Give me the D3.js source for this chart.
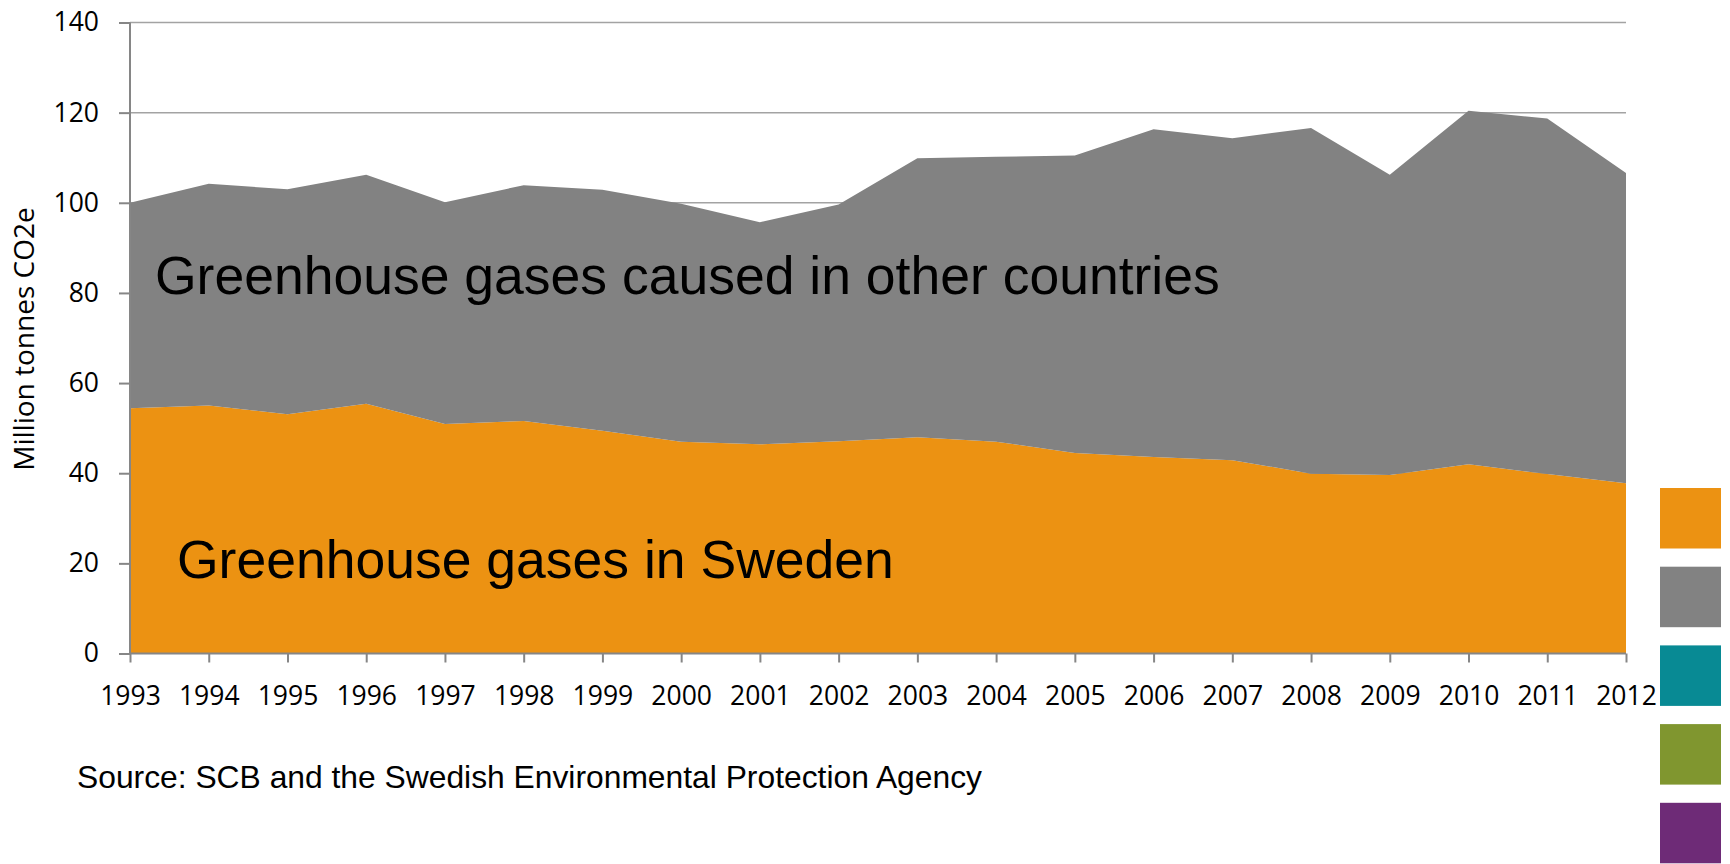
<!DOCTYPE html>
<html>
<head>
<meta charset="utf-8">
<title>Greenhouse gases</title>
<script src="https://cdn.jsdelivr.net/npm/d3@7"></script>
<style>
  body { margin: 0; background: #fff; }
  svg { display: block; }
</style>
</head>
<body>
<div id="chart"></div>
<script>
// data (million tonnes CO2e)
const years = [1993, 1994, 1995, 1996, 1997, 1998, 1999, 2000, 2001, 2002,
               2003, 2004, 2005, 2006, 2007, 2008, 2009, 2010, 2011, 2012];
const sweden = [54.4, 55.0, 53.1, 55.4, 50.9, 51.6, 49.4, 47.0, 46.4, 47.1,
                48.0, 47.0, 44.5, 43.6, 42.9, 39.9, 39.6, 42.0, 39.8, 37.8];
const abroad = [45.6, 49.2, 49.9, 50.8, 49.2, 52.3, 53.5, 52.8, 49.3, 52.5,
                61.9, 63.2, 66.0, 72.7, 71.4, 76.7, 66.6, 78.4, 78.9, 68.8];
const yTicks = [0, 20, 40, 60, 80, 100, 120, 140];
const seriesNames = ["Greenhouse gases in Sweden", "Greenhouse gases caused in other countries"];
const seriesColors = ["#ec9212", "#828282"];
const legendColors = ["#ec9212", "#828282", "#088a94", "#80962f", "#6e2b77"];

const W = 1730, H = 864;
const plotLeft = 130, plotRight = 1626, plotTop = 22.5, plotBottom = 653.5;

const svg = d3.select("#chart").append("svg")
    .attr("width", W)
    .attr("height", H);

const x = d3.scaleLinear().domain([years[0], years[years.length - 1]]).range([plotLeft, plotRight]);
const y = d3.scaleLinear().domain([0, 140]).range([plotBottom, plotTop]);

const rows = years.map((yr, i) => ({ year: yr, sweden: sweden[i], abroad: abroad[i] }));
const stacked = d3.stack().keys(["sweden", "abroad"])(rows);

// gridlines (behind the areas)
svg.append("g")
    .selectAll("line")
    .data(yTicks.filter(d => d > 0))
    .join("line")
    .attr("x1", plotLeft).attr("x2", plotRight)
    .attr("y1", d => y(d)).attr("y2", d => y(d))
    .attr("stroke", "#a3a3a3")
    .attr("stroke-width", 1.5);

const area = d3.area()
    .x(d => x(d.data.year))
    .y0(d => y(d[0]))
    .y1(d => y(d[1]));

svg.append("g")
    .selectAll("path")
    .data(stacked)
    .join("path")
    .attr("fill", (d, i) => seriesColors[i])
    .attr("d", area);

// y axis
const yAxis = svg.append("g")
    .attr("transform", `translate(${plotLeft},0)`)
    .call(d3.axisLeft(y).tickValues(yTicks).tickSize(11).tickPadding(20));
// x axis
const xAxis = svg.append("g")
    .attr("transform", `translate(0,${plotBottom})`)
    .call(d3.axisBottom(x).tickValues(years).tickFormat(d3.format("d")).tickSize(9).tickPadding(24));

[yAxis, xAxis].forEach(g => {
    g.select(".domain").attr("stroke", "#868686").attr("stroke-width", 2);
    g.selectAll(".tick line").attr("stroke", "#868686").attr("stroke-width", 2);
    g.selectAll("text")
        .attr("fill", "#000")
        .style("font-family", "'Open Sans', sans-serif")
        .style("font-size", "26.5px");
});
yAxis.select(".domain").attr("d", `M0,${plotTop}V${plotBottom}`);
xAxis.select(".domain").attr("d", `M${plotLeft},0H${plotRight}`);

// axis title
svg.append("text")
    .attr("transform", `translate(34,339) rotate(-90)`)
    .attr("text-anchor", "middle")
    .style("font-family", "'Open Sans', sans-serif")
    .style("font-size", "28px")
    .text("Million tonnes CO2e");

// area labels
svg.append("text")
    .attr("x", 155).attr("y", 294)
    .style("font-family", "'Liberation Sans', Arial, sans-serif")
    .style("font-size", "53.5px")
    .text(seriesNames[1]);
svg.append("text")
    .attr("x", 177).attr("y", 578)
    .style("font-family", "'Liberation Sans', Arial, sans-serif")
    .style("font-size", "53.5px")
    .text(seriesNames[0]);

// source
svg.append("text")
    .attr("x", 77).attr("y", 788)
    .style("font-family", "'Liberation Sans', Arial, sans-serif")
    .style("font-size", "31.8px")
    .text("Source: SCB and the Swedish Environmental Protection Agency");

// colour squares on the right
svg.append("g")
    .selectAll("rect")
    .data(legendColors)
    .join("rect")
    .attr("x", 1660)
    .attr("y", (d, i) => 488 + i * 78.7)
    .attr("width", 61)
    .attr("height", 60.5)
    .attr("fill", d => d);
</script>
</body>
</html>
